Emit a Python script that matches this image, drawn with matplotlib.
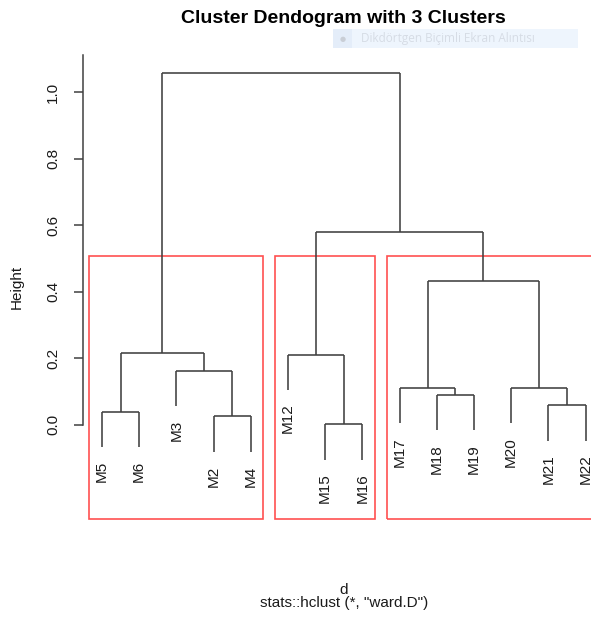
import matplotlib
matplotlib.use("Agg")
import matplotlib.pyplot as plt
from matplotlib.patches import Rectangle

# ---------------- data ----------------
leaf_labels = ["M5", "M6", "M3", "M2", "M4", "M12", "M15", "M16",
               "M17", "M18", "M19", "M20", "M21", "M22"]
# R-style merge matrix: negative = leaf (1-based, in leaf order), positive = earlier merge
merge_left = [-1, -4, -3, 1, -7, -6, -10, -9, -13, -12, 8, 6, 4]
merge_right = [-2, -5, 2, 3, -8, 5, -11, 7, -14, 9, 10, 11, 12]
merge_height = [0.039, 0.025, 0.163, 0.217, 0.001, 0.211, 0.089, 0.110,
                0.058, 0.110, 0.433, 0.580, 1.058]
cluster_id = [1, 1, 1, 1, 1, 2, 2, 2, 3, 3, 3, 3, 3, 3]
n_clusters = 3
y_ticks = [0.0, 0.2, 0.4, 0.6, 0.8, 1.0]
y_tick_labels = ["0.0", "0.2", "0.4", "0.6", "0.8", "1.0"]
hang = 0.1

title = "Cluster Dendogram with 3 Clusters"
ylabel = "Height"
xlabel = "d"
sublabel = 'stats::hclust (*, "ward.D")'
overlay_text = "Dikdörtgen Biçimli Ekran Alıntısı"

# ---------------- figure ----------------
W, H = 591, 621
fig = plt.figure(figsize=(W / 100, H / 100), dpi=100)
plt.rcParams['font.family'] = ['Liberation Sans', 'DejaVu Sans']

BASE = 11

def fx(px):
    return px / W

def fy(py):
    return (H - py) / H

ax_left, ax_right, ax_top, ax_bot = 82.6, 605.0, 55.0, 519.0
ax = fig.add_axes([fx(ax_left), fy(ax_bot), (ax_right - ax_left) / W, (ax_bot - ax_top) / H])
ax.set_xlim(0.48, len(leaf_labels) + 0.52)
ax.set_ylim(-0.283, 1.111)

line_col = "#404040"
lw = 1.15

hrange = max(merge_height) - min(merge_height)
hang_h = hang * hrange

pos = {}
def node_xy(ref):
    if ref < 0:
        return float(-ref), None
    return pos[ref]

for i, (l, r, h) in enumerate(zip(merge_left, merge_right, merge_height), start=1):
    xs = []
    for ref in (l, r):
        x, y = node_xy(ref)
        if y is None:
            y = h - hang_h
            ax.annotate(leaf_labels[-ref - 1], xy=(x, y), xytext=(0, -10),
                        textcoords="offset points", rotation=90,
                        ha="center", va="top", fontsize=BASE, color="#1a1a1a",
                        annotation_clip=False)
        ax.plot([x, x], [y, h], color=line_col, lw=lw, solid_capstyle="butt")
        xs.append(x)
    ax.plot([xs[0], xs[1]], [h, h], color=line_col, lw=lw, solid_capstyle="butt")
    pos[i] = ((xs[0] + xs[1]) / 2, h)

# cluster rectangles (rect.hclust style)
sorted_h = sorted(merge_height, reverse=True)
box_top = (sorted_h[n_clusters - 2] + sorted_h[n_clusters - 1]) / 2
ybot = ax.get_ylim()[0]
for c in sorted(set(cluster_id)):
    idx = [i + 1 for i, cc in enumerate(cluster_id) if cc == c]
    x0 = min(idx) - 0.34
    x1 = max(idx) + 0.33
    ax.add_patch(Rectangle((x0, ybot), x1 - x0, box_top - ybot, fill=False,
                           edgecolor="#ff5050", lw=1.2, clip_on=False))

# axes styling
for s in ["top", "right", "bottom"]:
    ax.spines[s].set_visible(False)
ax.spines["left"].set_bounds(0.0, ax.get_ylim()[1])
ax.spines["left"].set_color("#404040")
ax.spines["left"].set_linewidth(1.1)
ax.set_xticks([])
ax.set_yticks(y_ticks)
ax.set_yticklabels(y_tick_labels, rotation=90, va="center", fontsize=BASE, color="#1a1a1a")
ax.tick_params(axis="y", length=6.7, width=1.1, color="#404040", pad=9.5)
ax.patch.set_visible(False)

# texts
fig.text(fx(343.8), fy(23), title, ha="center", va="baseline",
         fontsize=14, fontweight="bold", color="black")
fig.text(fx(17), fy(287), ylabel, ha="center", va="center", rotation=90,
         fontsize=BASE, color="#1a1a1a")
fig.text(fx(343.8), fy(594), xlabel, ha="center", va="baseline", fontsize=BASE, color="#1a1a1a")
fig.text(fx(343.8), fy(607.5), sublabel, ha="center", va="baseline", fontsize=BASE, color="#1a1a1a")

# snipping-tool overlay
fig.patches.append(Rectangle((fx(333), fy(48)), (578 - 333) / W, (48 - 29) / H,
                             transform=fig.transFigure, facecolor="#eef5fd",
                             edgecolor="none", zorder=5))
fig.patches.append(Rectangle((fx(333), fy(48)), (352 - 333) / W, (48 - 29) / H,
                             transform=fig.transFigure, facecolor="#e4edf9",
                             edgecolor="none", zorder=6))
fig.text(fx(342.5), fy(38.5), "●", ha="center", va="center", fontsize=5,
         color="#c9ced6", zorder=7, family=["DejaVu Sans"])
fig.text(fx(361), fy(38.5), overlay_text, ha="left", va="center", fontsize=8.5,
         color="#d6dce5", zorder=7, family=["Open Sans", "DejaVu Sans"])

fig.savefig("out.png", dpi=100)
